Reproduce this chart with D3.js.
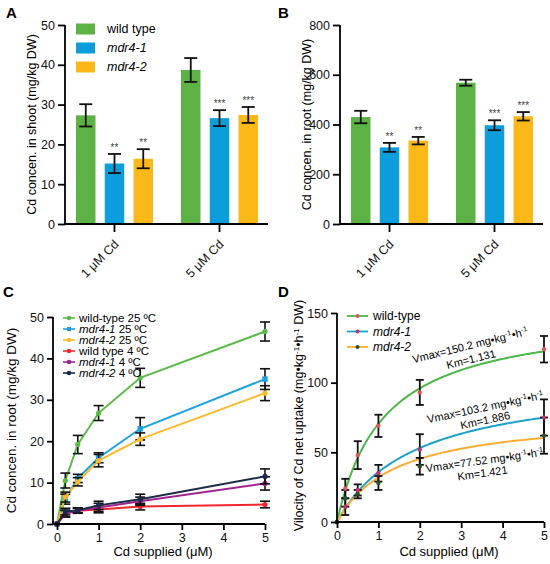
<!DOCTYPE html>
<html>
<head>
<meta charset="utf-8">
<script src="https://cdn.jsdelivr.net/npm/d3@7"></script>
<style>
  body { margin: 0; background: #fff; }
  svg { font-family: "Liberation Sans", Arial, sans-serif; }
  .axis path, .axis line { stroke: #000; stroke-width: 1.8; }
  .axis text { font-size: 12.5px; fill: #111; }
</style>
</head>
<body>
<svg id="chart" width="550" height="564"></svg>
<script>
// --- data ---

const barGroups = ['1 μM Cd', '5 μM Cd'];
const barSeries = ['wild type', 'mdr4-1', 'mdr4-2'];
const barColors = ['#5db246', '#0e9ddb', '#fcb817'];

// panel A: shoot, rows = groups, cols = series
const shootMean = [[27.3, 15.2, 16.4], [38.7, 26.6, 27.4]];
const shootErr = [[2.8, 2.4, 2.4], [3.0, 2.0, 2.0]];
const shootStars = [['', '**', '**'], ['', '***', '***']];

// panel B: root
const rootMean = [[430, 308, 335], [568, 397, 433]];
const rootErr = [[25, 18, 15], [12, 20, 17]];
const rootStars = [['', '**', '**'], ['', '***', '***']];

// panel C: time course of root Cd
const supplied = [0, 0.2, 0.5, 1, 2, 5];
const tempSeries = ['wild-type 25 ºC', 'mdr4-1 25 ºC', 'mdr4-2 25 ºC', 'wild type 4 ºC', 'mdr4-1 4 ºC', 'mdr4-2 4 ºC'];
const tempColors = ['#5bb948', '#1ba3e0', '#fdb92b', '#f0282d', '#a0248f', '#1b2a47'];
const tempMean = [
  [0, 10.5, 19.2, 26.8, 35.3, 46.5],
  [0, 6.0, 11.0, 16.0, 23.0, 35.0],
  [0, 6.5, 10.2, 15.3, 20.5, 31.6],
  [0, 2.5, 3.2, 3.5, 4.2, 4.7],
  [0, 2.5, 3.2, 4.0, 5.5, 9.8],
  [0, 3.0, 3.3, 4.5, 6.0, 11.5]
];
const tempErr = [
  [0, 1.8, 2.2, 1.8, 2.3, 2.3],
  [0, 1.2, 1.0, 1.2, 2.7, 2.5],
  [0, 1.2, 1.0, 1.5, 1.5, 1.8],
  [0, 0.8, 0.6, 0.8, 0.8, 0.8],
  [0, 0.8, 0.6, 1.0, 1.0, 1.6],
  [0, 0.8, 0.6, 1.0, 1.2, 1.8]
];

// panel D: uptake velocity with Michaelis-Menten fits
const kinSeries = ['wild-type', 'mdr4-1', 'mdr4-2'];
const kinLineColors = ['#4cb748', '#1ca2c9', '#fbae33'];
const kinDotColors = ['#e0575a', '#c2336e', '#2f4f2a'];
const kinMean = [
  [0, 24, 48, 69, 93, 124],
  [0, 11, 23, 35, 52, 75],
  [0, 17, 20, 28, 40, 62]
];
const kinErr = [
  [0, 7, 10, 8, 9, 9.5],
  [0, 6, 4, 6, 11, 13],
  [0, 6, 3, 5, 6, 13]
];
const vmax = [150.2, 103.2, 77.52];
const km = [1.131, 1.886, 1.421];
const vmaxLabels = ['150.2', '103.2', '77.52'];
const kmLabels = ['1.131', '1.886', '1.421'];

// --- drawing ---

const svg = d3.select('#chart');

const panelLabel = (text, x, y) => {
  svg.append('text')
    .attr('x', x).attr('y', y)
    .attr('font-size', 15).attr('font-weight', 'bold')
    .text(text);
};

// italic gene names, plain rest
const seriesText = (sel, label) => {
  const m = label.match(/^(mdr4-\d)(.*)$/);
  if (m) {
    sel.append('tspan').attr('font-style', 'italic').text(m[1]);
    sel.append('tspan').text(m[2]);
  } else {
    sel.text(label);
  }
};

const unitText = (sel, parts) => {
  // parts: [text, sup, text, sup, ...]
  parts.forEach((p, i) => {
    const t = sel.append('tspan').text(p);
    if (i % 2 === 1) t.attr('baseline-shift', 'super').attr('font-size', '0.65em');
  });
};

function barPanel ({ ox, mean, err, stars, yMax, yStep, title, legend }) {
  const left = ox + 65, right = ox + 268, top = 25, bottom = 224;
  const g = svg.append('g');

  const x0 = d3.scaleBand().domain(barGroups).range([ox + 62, ox + 272]);
  const x1 = d3.scaleBand().domain(barSeries).range([14, 91]).paddingInner(0.322);
  const y = d3.scaleLinear().domain([0, yMax]).range([bottom, top]);

  const rows = barGroups.map((grp, gi) => barSeries.map((s, si) => ({
    grp, s, si, v: mean[gi][si], e: err[gi][si], star: stars[gi][si]
  })));

  const groups = g.selectAll('g.grp').data(rows).enter()
    .append('g').attr('class', 'grp')
    .attr('transform', (d, i) => `translate(${x0(barGroups[i])},0)`);

  groups.selectAll('rect').data(d => d).enter()
    .append('rect')
    .attr('x', d => x1(d.s))
    .attr('width', x1.bandwidth())
    .attr('y', d => y(d.v))
    .attr('height', d => bottom - y(d.v))
    .attr('fill', d => barColors[d.si]);

  const eb = groups.selectAll('g.err').data(d => d).enter()
    .append('g').attr('class', 'err')
    .attr('transform', d => `translate(${x1(d.s) + x1.bandwidth() / 2},0)`)
    .attr('stroke', '#111').attr('stroke-width', 1.8);
  eb.append('line').attr('y1', d => y(d.v - d.e)).attr('y2', d => y(d.v + d.e));
  eb.append('line').attr('x1', -6.5).attr('x2', 6.5).attr('y1', d => y(d.v - d.e)).attr('y2', d => y(d.v - d.e));
  eb.append('line').attr('x1', -6.5).attr('x2', 6.5).attr('y1', d => y(d.v + d.e)).attr('y2', d => y(d.v + d.e));

  groups.selectAll('text.star').data(d => d.filter(r => r.star)).enter()
    .append('text').attr('class', 'star')
    .attr('x', d => x1(d.s) + x1.bandwidth() / 2)
    .attr('y', d => y(d.v + d.e) - 3)
    .attr('text-anchor', 'middle')
    .attr('font-size', 10).attr('fill', '#444')
    .text(d => d.star);

  const yAxis = g.append('g').attr('class', 'axis')
    .attr('transform', `translate(${left},0)`)
    .call(d3.axisLeft(y).ticks(yMax / yStep).tickSize(7).tickSizeOuter(0));
  yAxis.select('.domain').attr('d', `M0,${bottom}V${top}`);

  const xAxis = g.append('g').attr('class', 'axis')
    .attr('transform', `translate(0,${bottom})`)
    .call(d3.axisBottom(x0).tickSize(8).tickSizeOuter(0).tickFormat(''));
  xAxis.select('.domain').attr('d', `M${left},0H${right}`);

  // rotated category labels
  g.selectAll('text.cat').data(barGroups).enter()
    .append('text').attr('class', 'cat')
    .attr('transform', d => `translate(${x0(d) + x0.bandwidth() / 2 + 5},${bottom + 21}) rotate(-45)`)
    .attr('text-anchor', 'end')
    .attr('font-size', 12.5).attr('fill', '#111')
    .text(d => d);

  g.append('text')
    .attr('transform', `translate(${ox + 36},${(top + bottom) / 2}) rotate(-90)`)
    .attr('text-anchor', 'middle').attr('font-size', 12.5)
    .text(title);

  if (legend) {
    const lg = g.selectAll('g.leg').data(barSeries).enter()
      .append('g').attr('class', 'leg')
      .attr('transform', (d, i) => `translate(${ox + 76},${29 + i * 19})`);
    lg.append('rect').attr('y', -5.5).attr('width', 19).attr('height', 11)
      .attr('fill', (d, i) => barColors[i]);
    lg.append('text').attr('x', 31).attr('dy', '0.35em').attr('font-size', 12.5)
      .each(function (d) { seriesText(d3.select(this), d); });
  }
}

barPanel({
  ox: 0, mean: shootMean, err: shootErr, stars: shootStars,
  yMax: 50, yStep: 10, title: 'Cd concen. in shoot (mg/kg DW)', legend: true
});
barPanel({
  ox: 275, mean: rootMean, err: rootErr, stars: rootStars,
  yMax: 800, yStep: 200, title: 'Cd concen. in root (mg/kg DW)', legend: false
});

// panel C
(function () {
  const axisX = 53, bottom = 524;
  const x = d3.scaleLinear().domain([0, 5]).range([57, 265]);
  const y = d3.scaleLinear().domain([0, 50]).range([bottom, 317]);
  const g = svg.append('g');

  const line = d3.line().x((d, i) => x(supplied[i])).y(d => y(d));

  tempMean.forEach((vals, si) => {
    const col = tempColors[si];
    const sg = g.append('g');
    sg.append('path').datum(vals)
      .attr('d', line).attr('fill', 'none')
      .attr('stroke', col).attr('stroke-width', 2);
    const eb = sg.selectAll('g.err').data(vals.map((v, i) => ({ v, e: tempErr[si][i], s: supplied[i] })).filter(d => d.e > 0))
      .enter().append('g')
      .attr('transform', d => `translate(${x(d.s)},0)`)
      .attr('stroke', '#111').attr('stroke-width', 1.6);
    eb.append('line').attr('y1', d => y(d.v - d.e)).attr('y2', d => y(d.v + d.e));
    eb.append('line').attr('x1', -5).attr('x2', 5).attr('y1', d => y(d.v - d.e)).attr('y2', d => y(d.v - d.e));
    eb.append('line').attr('x1', -5).attr('x2', 5).attr('y1', d => y(d.v + d.e)).attr('y2', d => y(d.v + d.e));
    sg.selectAll('path.pt').data(vals).enter()
      .append('path').attr('class', 'pt')
      .attr('transform', (d, i) => `translate(${x(supplied[i])},${y(d)})`)
      .attr('d', d3.symbol().type(si === 1 ? d3.symbolSquare : d3.symbolCircle).size(si === 1 ? 30 : 22))
      .attr('fill', col);
  });

  const yAxis = g.append('g').attr('class', 'axis')
    .attr('transform', `translate(${axisX},0)`)
    .call(d3.axisLeft(y).ticks(5).tickSize(6).tickSizeOuter(0));
  yAxis.select('.domain').attr('d', `M0,${bottom}V317`);
  yAxis.selectAll('text').attr('font-size', 13);

  const xAxis = g.append('g').attr('class', 'axis')
    .attr('transform', `translate(0,${bottom})`)
    .call(d3.axisBottom(x).ticks(5).tickSize(6).tickSizeOuter(0));
  xAxis.select('.domain').attr('d', `M${axisX},0H265`);
  xAxis.selectAll('text').attr('font-size', 13);

  g.append('text').attr('x', 163).attr('y', 556)
    .attr('text-anchor', 'middle').attr('font-size', 13)
    .text('Cd supplied (μM)');
  g.append('text')
    .attr('transform', `translate(16,${(bottom + 317) / 2}) rotate(-90)`)
    .attr('text-anchor', 'middle').attr('font-size', 13.5)
    .text('Cd concen. in root (mg/kg DW)');

  const lg = g.selectAll('g.leg').data(tempSeries).enter()
    .append('g')
    .attr('transform', (d, i) => `translate(63,${318 + i * 11})`);
  lg.append('line').attr('x2', 12).attr('stroke', (d, i) => tempColors[i]).attr('stroke-width', 1.6);
  lg.append('path').attr('transform', 'translate(6,0)')
    .attr('d', (d, i) => d3.symbol().type(i === 1 ? d3.symbolSquare : d3.symbolCircle).size(16)())
    .attr('fill', (d, i) => tempColors[i]);
  lg.append('text').attr('x', 16).attr('dy', '0.35em').attr('font-size', 11.5)
    .each(function (d) { seriesText(d3.select(this), d); });
})();

// panel D
(function () {
  const axisX = 337, bottom = 522, top = 313;
  const x = d3.scaleLinear().domain([0, 5]).range([337, 544]);
  const y = d3.scaleLinear().domain([0, 150]).range([bottom, top]);
  const g = svg.append('g');

  const sgrid = d3.range(0, 5.001, 0.05);
  const line = d3.line().x(d => x(d[0])).y(d => y(d[1])).curve(d3.curveBasis);

  kinMean.forEach((vals, si) => {
    const fit = sgrid.map(s => [s, vmax[si] * s / (km[si] + s)]);
    g.append('path').datum(fit)
      .attr('d', line).attr('fill', 'none')
      .attr('stroke', kinLineColors[si]).attr('stroke-width', 2);
  });

  kinMean.forEach((vals, si) => {
    const pts = vals.map((v, i) => ({ v, e: kinErr[si][i], s: supplied[i] }));
    const eb = g.append('g').selectAll('g').data(pts.filter(d => d.e > 0)).enter()
      .append('g')
      .attr('transform', d => `translate(${x(d.s)},0)`)
      .attr('stroke', '#111').attr('stroke-width', 1.8);
    eb.append('line').attr('y1', d => y(d.v - d.e)).attr('y2', d => y(d.v + d.e));
    eb.append('line').attr('x1', -4).attr('x2', 4).attr('y1', d => y(d.v - d.e)).attr('y2', d => y(d.v - d.e));
    eb.append('line').attr('x1', -4).attr('x2', 4).attr('y1', d => y(d.v + d.e)).attr('y2', d => y(d.v + d.e));
  });

  kinMean.forEach((vals, si) => {
    g.append('g').selectAll('circle').data(vals).enter()
      .append('circle')
      .attr('cx', (d, i) => x(supplied[i])).attr('cy', d => y(d))
      .attr('r', 2.2).attr('fill', kinDotColors[si]);
  });

  const yAxis = g.append('g').attr('class', 'axis')
    .attr('transform', `translate(${axisX},0)`)
    .call(d3.axisLeft(y).tickValues([0, 50, 100, 150]).tickSize(6).tickSizeOuter(0));
  yAxis.select('.domain').attr('d', `M0,${bottom}V${top}`);
  yAxis.selectAll('text').attr('font-size', 13);

  const xAxis = g.append('g').attr('class', 'axis')
    .attr('transform', `translate(0,${bottom})`)
    .call(d3.axisBottom(x).ticks(5).tickSize(6).tickSizeOuter(0));
  xAxis.select('.domain').attr('d', `M${axisX},0H544`);
  xAxis.selectAll('text').attr('font-size', 13);

  g.append('text').attr('x', 449).attr('y', 556)
    .attr('text-anchor', 'middle').attr('font-size', 13)
    .text('Cd supplied (μM)');

  const yt = g.append('text')
    .attr('transform', `translate(303,${(bottom + top) / 2 - 2}) rotate(-90)`)
    .attr('text-anchor', 'middle').attr('font-size', 12.5);
  unitText(yt, ['Vilocity of Cd net uptake (mg•kg', '-1', '•h', '-1', ' DW)']);

  const lg = g.selectAll('g.leg').data(kinSeries).enter()
    .append('g')
    .attr('transform', (d, i) => `translate(347,${316 + i * 15.5})`);
  lg.append('line').attr('x2', 21).attr('stroke', (d, i) => kinLineColors[i]).attr('stroke-width', 1.8);
  lg.append('circle').attr('cx', 10.5).attr('r', 2).attr('fill', (d, i) => kinDotColors[i]);
  lg.append('text').attr('x', 26).attr('dy', '0.35em').attr('font-size', 12)
    .each(function (d) { seriesText(d3.select(this), d); });

  // fit annotations
  const notePos = [[471, 349, -14, 472, 363], [486, 411, -12, 486, 424], [485, 464, -8, 483, 477]];
  notePos.forEach(([vx, vy, a, kx, ky], i) => {
    const t = g.append('text')
      .attr('transform', `translate(${vx},${vy}) rotate(${a})`)
      .attr('text-anchor', 'middle').attr('font-size', 11);
    unitText(t, [`Vmax=${vmaxLabels[i]} mg•kg`, '-1', '•h', '-1']);
    g.append('text')
      .attr('transform', `translate(${kx},${ky}) rotate(${a})`)
      .attr('text-anchor', 'middle').attr('font-size', 11)
      .text(`Km=${kmLabels[i]}`);
  });
})();

panelLabel('A', 6, 18);
panelLabel('B', 278, 18);
panelLabel('C', 3, 297);
panelLabel('D', 278, 297);
</script>
</body>
</html>
